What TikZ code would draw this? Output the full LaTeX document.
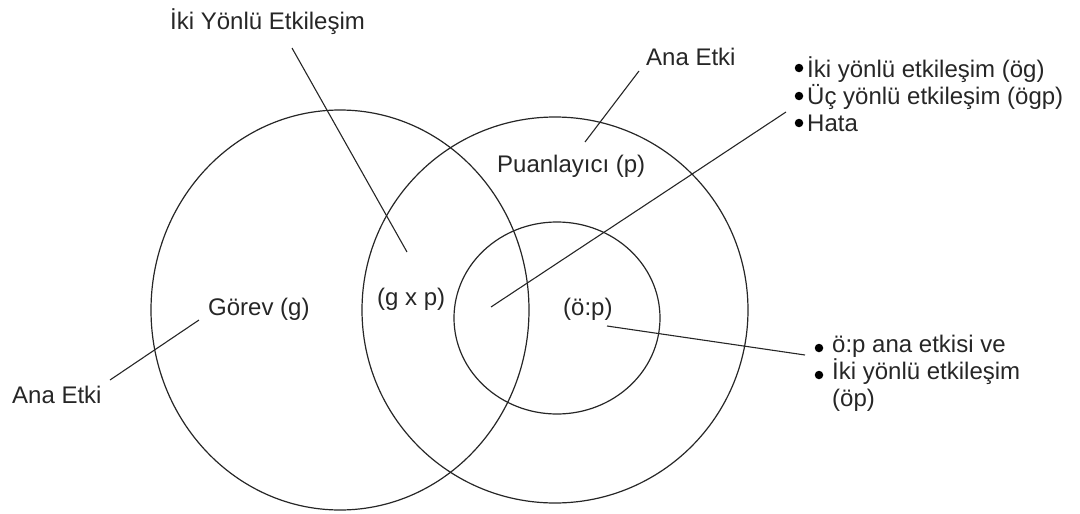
\documentclass[tikz,border=0pt]{standalone}
\usepackage{fontspec}
\setmainfont{Liberation Sans}
\begin{document}
\begin{tikzpicture}[x=1pt,y=-1pt,
  lbl/.style={inner sep=0pt, anchor=base west, font=\fontsize{24}{28}\selectfont, text=black!85},
  conn/.style={line width=1.1pt, black!85},
  ring/.style={line width=1.2pt, black!85},
  dot/.style={circle, fill=black, inner sep=0pt, minimum size=8.5pt}]
\useasboundingbox (0,0) rectangle (1080,514);
% sets
\draw[ring] (340,310) ellipse [x radius=189, y radius=200];
\draw[ring] (555,310) circle [radius=193];
\draw[ring] (557,318) ellipse [x radius=103, y radius=96];
% labels
\node[lbl] (iki) at (170,30) {İki Yönlü Etkileşim};
\node[lbl] (anaR) at (646,65) {Ana Etki};
\node[lbl] (puan) at (497,172) {Puanlayıcı (p)};
\node[lbl] (gxp) at (377,305) {(g x p)};
\node[lbl] (op) at (563,315) {(ö:p)};
\node[lbl] (gorev) at (208,315) {Görev (g)};
\node[lbl] (anaL) at (12,403) {Ana Etki};
% upper list
\node[lbl] (l1) at (807,77) {İki yönlü etkileşim (ög)};
\node[lbl] (l2) at (807,104) {Üç yönlü etkileşim (ögp)};
\node[lbl] (l3) at (807,131) {Hata};
\node[dot] (b1) at (799,68) {};
\node[dot] (b2) at (799,96) {};
\node[dot] (b3) at (799,123) {};
% lower list
\node[lbl] (m1) at (832,352) {ö:p ana etkisi ve};
\node[lbl] (m2) at (832,379) {İki yönlü etkileşim};
\node[lbl] (m3) at (832,406) {(öp)};
\node[dot] (c1) at (819,348) {};
\node[dot] (c2) at (819,375) {};
% connector end points
\coordinate (ikiA) at (292,48);
\coordinate (ikiB) at (407,252);
\coordinate (anaRA) at (639,71);
\coordinate (anaRB) at (585,142);
\coordinate (listA) at (786,112);
\coordinate (listB) at (491,307);
\coordinate (opA) at (607,326);
\coordinate (opB) at (805,355);
\coordinate (gorA) at (199,320);
\coordinate (gorB) at (110,380);
% connectors
\draw[conn] (ikiA) -- (ikiB);
\draw[conn] (anaRA) -- (anaRB);
\draw[conn] (listA) -- (listB);
\draw[conn] (opA) -- (opB);
\draw[conn] (gorA) -- (gorB);
\end{tikzpicture}
\end{document}
